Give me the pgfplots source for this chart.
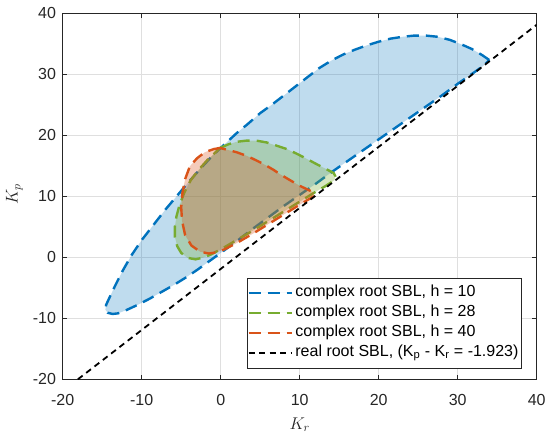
\RequirePackage{fix-cm}
\documentclass[border=0pt]{standalone}
\usepackage{fontspec}
\setmainfont{Liberation Sans}
\usepackage{pgfplots}
\pgfplotsset{compat=1.18}
\definecolor{mblue}{RGB}{0,114,189}
\definecolor{morange}{RGB}{217,83,25}
\definecolor{mgreen}{RGB}{119,172,48}
\definecolor{axgray}{RGB}{38,38,38}
\definecolor{gridgray}{RGB}{223,223,223}
\begin{document}
\begin{tikzpicture}
\begin{axis}[
  at={(0,0)}, anchor=south west,
  scale only axis, width=474bp, height=366.3bp,
  xmin=-20, xmax=40, ymin=-20, ymax=40,
  xtick={-20,-10,0,10,20,30,40}, ytick={-20,-10,0,10,20,30,40},
  xticklabels={-20,-10,0,10,20,30,40},
  yticklabels={-20,-10,0,10,20,30,40},
  grid=major,
  major grid style={line width=0.6bp, draw=gridgray},
  axis line style={line width=0.7bp, draw=axgray},
  tick style={line width=0.7bp, draw=axgray},
  major tick length=4.5bp,
  ticklabel style={font=\fontsize{16bp}{19bp}\selectfont, text=axgray},
  xticklabel style={yshift=-11.5bp},
  yticklabel style={xshift=-3.2bp},
  xlabel={$K_r$}, ylabel={$K_p$},
  xlabel style={at={(axis description cs:0.5,-0.124)}, anchor=center, font=\fontsize{17bp}{20bp}\selectfont, text=axgray},
  ylabel style={at={(axis description cs:-0.102,0.505)}, anchor=center, font=\fontsize{17bp}{20bp}\selectfont, text=axgray},
  legend style={at={(0.388,0.030)}, anchor=south west, draw=axgray, line width=0.8bp, fill=white,
    font=\fontsize{16bp}{19bp}\selectfont, inner xsep=0.5bp, inner ysep=5bp,
    nodes={inner sep=2.5bp, text height=11bp, text depth=4bp}},
  legend cell align=left,
  legend image code/.code={\draw[#1] (0bp,0bp) -- (43bp,0bp);},
]
% blue region h = 10
\addplot[draw=mblue, fill=mblue, fill opacity=0.25, line width=2.4bp, dash pattern=on 12bp off 7bp] coordinates {
(34.0,32.3) (33.1,33.1) (31.8,34.1) (30.4,34.9) (29,35.6) (27.5,36.1) (26,36.3) (24.5,36.3) (23,36.1) (21.5,35.8) (20,35.3) (18.5,34.7) (17,34.0) (15.5,33.2) (14,32.2) (12.5,31.0) (11,29.5) (9.5,28.0) (8,26.5) (6.5,25.0) (5,23.6) (3.5,21.9) (2,20.3) (0.5,18.5) (-1,16.7) (-2.5,14.6) (-4,12.4) (-5.5,10.1) (-7,7.8) (-8.5,5.3) (-10,2.8) (-11.3,0.3) (-12.4,-2.2) (-13.3,-4.5) (-14.0,-6.4) (-14.5,-7.8) (-14.6,-8.6) (-14.3,-9.1) (-13.7,-9.3) (-13.0,-9.2) (-12,-8.7) (-10.5,-7.8) (-9,-6.8) (-7.5,-5.7) (-6,-4.6) (-4.5,-3.4) (-3,-2.1) (-1.5,-0.7) (0,0.7) (2,2.6) (4,4.6) (6,6.5) (8,8.4) (10,10.2) (12,12.0) (14,13.9) (16,15.7) (18,17.5) (20,19.3) (22,21.1) (24,22.9) (26,24.7) (28,26.5) (30,28.4) (32,30.2) (33.2,31.3) (34.0,32.3)
} -- cycle;
\addlegendentry{complex root SBL, h = 10}
% green region h = 28
\addplot[draw=mgreen, fill=mgreen, fill opacity=0.3, line width=2.4bp, dash pattern=on 12bp off 7bp] coordinates {
(-0.1,17.9) (1,18.5) (2,18.9) (3.3,19.1) (4.5,19.1) (5.8,18.8) (7,18.3) (8.4,17.7) (9.7,16.9) (10.9,16.1) (12.2,15.2) (13.4,14.4) (14.3,13.8) (14.5,13.3) (14.4,12.6) (13.2,11.6) (12,10.7) (10,9.1) (8,7.5) (6,5.9) (4,4.3) (2,2.8) (0.3,1.5) (-1.3,0.4) (-2.3,-0.1) (-3.2,-0.35) (-4.2,-0.1) (-5.0,0.7) (-5.5,1.8) (-5.8,3.3) (-5.8,5.0) (-5.6,6.7) (-5.2,8.6) (-4.6,10.6) (-3.8,12.6) (-2.8,14.3) (-1.7,15.9) (-0.8,17.0) (-0.1,17.9)
} -- cycle;
\addlegendentry{complex root SBL, h = 28}
% orange region h = 40
\addplot[draw=morange, fill=morange, fill opacity=0.3, line width=2.4bp, dash pattern=on 12bp off 7bp] coordinates {
(-0.1,17.9) (-0.9,17.7) (-2,17.2) (-3,16.2) (-3.9,14.9) (-4.5,12.8) (-4.85,10.5) (-5.0,8.2) (-4.9,6.0) (-4.5,3.6) (-3.7,1.9) (-2.6,0.9) (-1.5,0.6) (-0.5,0.8) (0.5,1.3) (2,2.3) (4,3.8) (6,5.4) (8,7.0) (10,8.6) (11.8,10.0) (11.8,10.6) (11.3,10.9) (10,11.7) (8.8,12.6) (7.5,13.6) (6.7,14.3) (5.5,15.2) (4.6,15.8) (3.3,16.6) (2.0,17.2) (0.8,17.6) (-0.1,17.9)
} -- cycle;
\addlegendentry{complex root SBL, h = 40}
% real root SBL
\addplot[draw=black, line width=1.8bp, dash pattern=on 6bp off 4.5bp] coordinates {(-18.077,-20) (40,38.077)};
\addlegendentry{real root SBL, (K\textsubscript{p} - K\textsubscript{r} = -1.923)}
\end{axis}
\pgfresetboundingbox
\path (-62.7bp,-56.7bp) rectangle (487.3bp,379.3bp);
\end{tikzpicture}
\end{document}
